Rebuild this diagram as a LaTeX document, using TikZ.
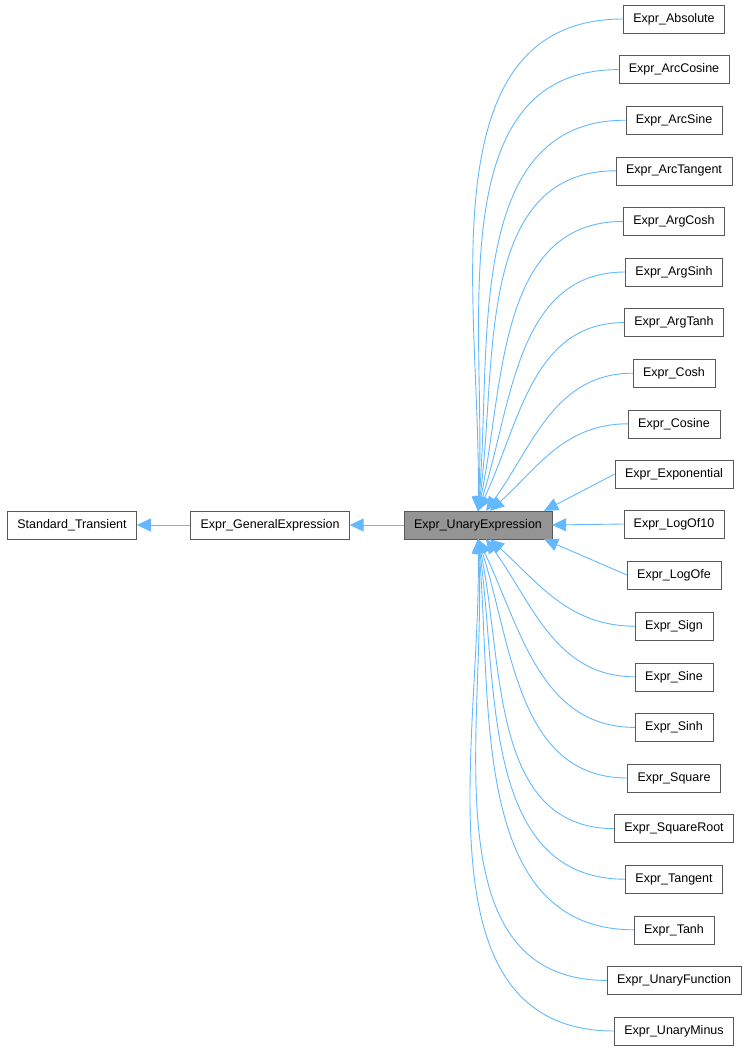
\documentclass[tikz,border=0pt]{standalone}
\usepackage{fontspec}
\setmainfont{Liberation Sans}
\usetikzlibrary{positioning,arrows.meta}
\definecolor{edgeblue}{HTML}{63B8FF}
\begin{document}
\begin{tikzpicture}[x=1pt,y=-1pt,font=\fontsize{12.5}{14}\selectfont]

% Styles
\tikzset{cls/.style={rectangle, draw=black!65, fill=white, minimum height=28pt, inner xsep=10pt},
         edge/.style={-{Triangle[length=14pt,width=13pt,fill=edgeblue]}, draw=edgeblue, line width=0.9pt}}

\useasboundingbox (0,0) rectangle (750,1051);

% Nodes
\node [cls] (trans) at (72,525) {Standard\_Transient};
\node [cls] (gen) at (270,525) {Expr\_GeneralExpression};
\node [cls, fill=black!42] (unary) at (478,525) {Expr\_UnaryExpression};

% Children
\foreach \n/\i/\a/\dx in {Absolute/0/89/0, ArcCosine/1/87/0, ArcSine/2/85/0, ArcTangent/3/82/0,
    ArgCosh/4/78/0, ArgSinh/5/72/0, ArgTanh/6/64/0, Cosh/7/54/8, Cosine/8/42/12}
{
  \node [cls] (c\i) at (674,{19+50.6*\i}) {Expr\_\n};
  \draw [edge] (c\i.west) to[out=180,in=\a] ([xshift=\dx pt]unary.north);
}
\node [cls] (c9) at (674,474) {Expr\_Exponential};
\draw [edge] (c9.west) -- ([xshift=-8pt]unary.north east);
\node [cls] (c10) at (674,524) {Expr\_LogOf10};
\draw [edge] (c10.west) -- (unary.east);
\node [cls] (c11) at (674,575) {Expr\_LogOfe};
\draw [edge] (c11.west) -- ([xshift=-8pt]unary.south east);
\foreach \n/\i/\a/\dx in {Sign/12/-42/12, Sine/13/-54/8, Sinh/14/-64/0, Square/15/-72/0,
    SquareRoot/16/-78/0, Tangent/17/-82/0, Tanh/18/-85/0, UnaryFunction/19/-87/0, UnaryMinus/20/-89/0}
{
  \node [cls] (c\i) at (674,{19+50.6*\i}) {Expr\_\n};
  \draw [edge] (c\i.west) to[out=180,in=\a] ([xshift=\dx pt]unary.south);
}

% Base edges
\draw [edge] (gen) -- (trans);
\draw [edge] (unary) -- (gen);

\end{tikzpicture}
\end{document}
